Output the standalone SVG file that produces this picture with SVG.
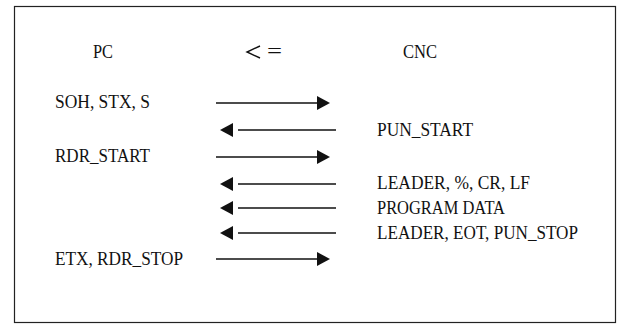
<svg xmlns="http://www.w3.org/2000/svg" width="622" height="325" viewBox="0 0 622 325">
  <style>
    .t { font-family: "Liberation Serif", "DejaVu Serif", serif; font-size: 18px; fill: #111; }
    .ln { stroke: #111; stroke-width: 1.5; fill: none; }
    .hd { fill: #111; }
  </style>
  <defs>
    <!-- right-pointing and left-pointing filled heads, tip at origin -->
    <polygon id="headR" class="hd" points="0,0 -13,-7 -13,7"/>
    <polygon id="headL" class="hd" points="0,0 13,-7 13,7"/>
  </defs>
  <rect width="622" height="325" fill="#fff"/>
  <rect x="14.5" y="6.5" width="601" height="316" fill="none" stroke="#222" stroke-width="1.2"/>

  <g id="header">
    <text class="t" x="93" y="58" textLength="20" lengthAdjust="spacingAndGlyphs">PC</text>
    <!-- direction sign "< =" -->
    <polyline points="260,46 247,52 260,58" fill="none" stroke="#111" stroke-width="1.4"/>
    <text class="t" x="267" y="58" style="font-size:20px" textLength="15" lengthAdjust="spacingAndGlyphs">=</text>
    <text class="t" x="403" y="58" textLength="34" lengthAdjust="spacingAndGlyphs">CNC</text>
  </g>

  <g id="pc-labels">
    <text class="t" x="55" y="108" textLength="95" lengthAdjust="spacingAndGlyphs">SOH, STX, S</text>
    <text class="t" x="55" y="162" textLength="95" lengthAdjust="spacingAndGlyphs">RDR_START</text>
    <text class="t" x="55" y="265" textLength="128" lengthAdjust="spacingAndGlyphs">ETX, RDR_STOP</text>
  </g>

  <g id="cnc-labels">
    <text class="t" x="377" y="136" textLength="96" lengthAdjust="spacingAndGlyphs">PUN_START</text>
    <text class="t" x="377" y="189" textLength="153" lengthAdjust="spacingAndGlyphs">LEADER, %, CR, LF</text>
    <text class="t" x="377" y="214" textLength="128" lengthAdjust="spacingAndGlyphs">PROGRAM DATA</text>
    <text class="t" x="377" y="239" textLength="201" lengthAdjust="spacingAndGlyphs">LEADER, EOT, PUN_STOP</text>
  </g>

  <g id="connectors">
    <!-- PC to CNC -->
    <line class="ln" x1="216" y1="103" x2="318" y2="103"/><use href="#headR" x="330" y="103"/>
    <line class="ln" x1="216" y1="157" x2="318" y2="157"/><use href="#headR" x="330" y="157"/>
    <line class="ln" x1="216" y1="259" x2="318" y2="259"/><use href="#headR" x="330" y="259"/>
    <!-- CNC to PC -->
    <use href="#headL" x="220" y="130"/><line class="ln" x1="238" y1="130" x2="336" y2="130"/>
    <use href="#headL" x="220" y="184"/><line class="ln" x1="238" y1="184" x2="336" y2="184"/>
    <use href="#headL" x="220" y="208"/><line class="ln" x1="238" y1="208" x2="336" y2="208"/>
    <use href="#headL" x="220" y="233"/><line class="ln" x1="238" y1="233" x2="336" y2="233"/>
  </g>
</svg>
